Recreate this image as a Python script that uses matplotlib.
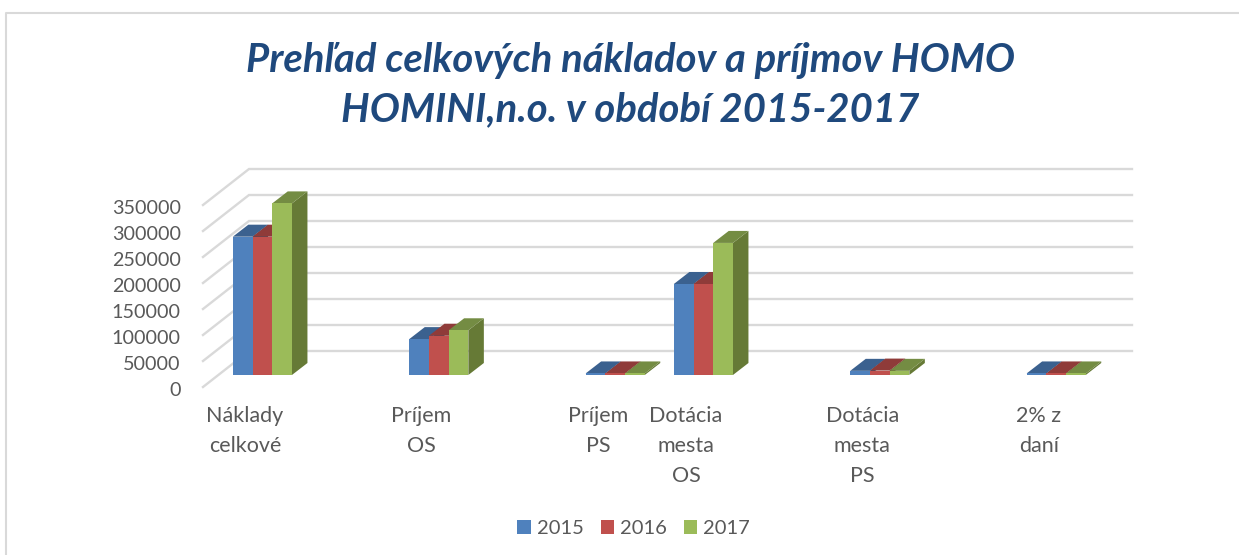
import matplotlib
matplotlib.use('Agg')
import matplotlib.pyplot as plt
from matplotlib.lines import Line2D
from matplotlib.patches import Polygon, Patch
from matplotlib.transforms import ScaledTranslation

plt.rcParams['font.family'] = ['Lato', 'DejaVu Sans']

categories = ['Náklady\ncelkové', 'Príjem\nOS', 'Príjem\nPS', 'Dotácia\nmesta\nOS', 'Dotácia\nmesta\nPS', '2% z\ndaní']
cat_pos = [0, 2, 4, 5, 7, 9]   # the 4th category really sits closer in the original

years = ['2015', '2016', '2017']
v2015 = [266000, 69000, 3000, 175000, 8000, 3000]
v2016 = [266000, 75500, 3000, 175000, 8500, 3000]
v2017 = [330000, 86000, 3000, 254000, 8000, 3000]
yticks = [0, 50000, 100000, 150000, 200000, 250000, 300000, 350000]

front = ['#4F81BD', '#C0504D', '#9BBB59']
top = ['#3B618F', '#8F3B39', '#748C43']
side = ['#315070', '#6E2F2D', '#667A36']
grid_col = '#D9D9D9'
text_col = '#595959'

W, H = 1239, 555
fig = plt.figure(figsize=(W / 100, H / 100), dpi=100)

# axes box in pixels: front floor corner to back wall top right
left, right, bottom, upper = 203, 1132, 387, 169
ax = fig.add_axes([left / W, 1 - bottom / H, (right - left) / W, (bottom - upper) / H])
px_x = 88.2              # pixels per category step
px_y = 26 / 50000        # pixels per value unit
xl = -(245 - left) / px_x
ax.set_xlim(xl, xl + (right - left) / px_x)
ax.set_ylim(0, (bottom - upper) / px_y)

# 3d walls
wall_dx = 46 / px_x
wall_dy = 36 / px_y
xr = ax.get_xlim()[1]
for t in yticks:
    ax.plot([xl, xl + wall_dx, xr], [t, t + wall_dy, t + wall_dy], color=grid_col, lw=1.7,
            clip_on=False, zorder=1, solid_joinstyle='miter')

# bars
bar_w = 19.7 / px_x
shift_x = 17.4 / px_x
base = 12 / px_y
depth_x = 15.5 / px_x
depth_y = 12 / px_y
series = [v2015, v2016, v2017]
z = 3
for g, pos in enumerate(cat_pos):
    for s, vals in enumerate(series):
        x0 = pos + shift_x + (s - 1.5) * bar_w
        x1 = x0 + bar_w
        y0 = base
        y1 = base + vals[g]
        ax.add_patch(Polygon([(x1, y0), (x1 + depth_x, y0 + depth_y), (x1 + depth_x, y1 + depth_y), (x1, y1)],
                             facecolor=side[s], edgecolor='none', zorder=z))
        ax.add_patch(Polygon([(x0, y1), (x0 + depth_x, y1 + depth_y), (x1 + depth_x, y1 + depth_y), (x1, y1)],
                             facecolor=top[s], edgecolor='none', zorder=z))
        ax.bar(x0, vals[g], bar_w, bottom=base, align='edge', color=front[s], zorder=z + 1)
        z += 2

ax.set_xticks(cat_pos)
ax.set_xticklabels(categories, linespacing=1.62, fontsize=15.5)
ax.set_yticks(yticks)
ax.set_yticklabels([str(t) for t in yticks], fontsize=14.2)
ax.tick_params(axis='both', length=0, labelcolor=text_col)
ax.tick_params(axis='y', pad=16)
ax.tick_params(axis='x', pad=14)
# labels sit a little under their grid lines in the original
nudge = ScaledTranslation(0, -1.5 / 72, fig.dpi_scale_trans)
for lab in ax.get_yticklabels():
    lab.set_transform(lab.get_transform() + nudge)
for sp in ax.spines.values():
    sp.set_visible(False)
ax.patch.set_alpha(0)

# chart border
fig.add_artist(Line2D([1, 6 / W, 6 / W], [1 - 13 / H, 1 - 13 / H, 0], color=grid_col, lw=1.5))

fig.text(630 / W, 1 - 85 / H, 'Prehľad celkových nákladov a príjmov HOMO\nHOMINI,n.o. v období 2015-2017',
         ha='center', va='center', color='#1F497D', fontsize=28.8, fontweight='bold', fontstyle='italic',
         linespacing=1.42)

handles = [Patch(facecolor=front[i], label=years[i]) for i in range(3)]
fig.legend(handles=handles, loc='center', bbox_to_anchor=(633.5 / W, 1 - 528.5 / H), ncol=3, frameon=False,
           fontsize=14.5, labelcolor=text_col, handlelength=0.65, handleheight=0.65,
           handletextpad=0.3, columnspacing=0.85)

fig.savefig('out.png', dpi=100)
